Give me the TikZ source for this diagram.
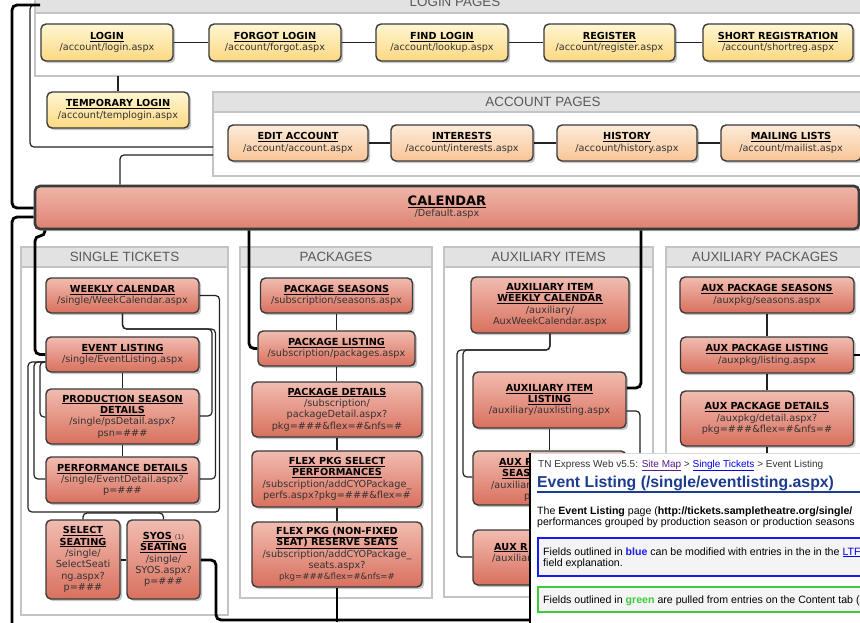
\documentclass[tikz,border=0pt]{standalone}
\usepackage{fontspec}
\setmainfont{DejaVu Sans}
\newfontfamily\lbfont{Liberation Sans}
\usetikzlibrary{shadows}
\definecolor{yelT}{HTML}{FFF6D2}
\definecolor{yelB}{HTML}{FCD882}
\definecolor{pchT}{HTML}{FDEBD8}
\definecolor{pchB}{HTML}{F8C596}
\definecolor{redT}{HTML}{F1BCB0}
\definecolor{redB}{HTML}{D9705E}
\definecolor{calT}{HTML}{EEB6A9}
\definecolor{calB}{HTML}{DE8270}
\definecolor{ndline}{HTML}{3A3A3A}
\definecolor{ndtxt}{HTML}{333333}
\definecolor{grpline}{HTML}{C4C4C4}
\definecolor{grpfill}{HTML}{E2E2E2}
\definecolor{grptxt}{HTML}{5A5A5A}
\definecolor{wirec}{HTML}{222222}
\definecolor{ovgray}{HTML}{333333}
\definecolor{ovblue}{HTML}{1D3C8F}
\definecolor{visitc}{HTML}{551A8B}
\definecolor{linkc}{HTML}{0000EE}
\definecolor{boxblue}{HTML}{1A1AF0}
\definecolor{boxgreen}{HTML}{3DCB3D}
\definecolor{boxfill}{HTML}{F4F4F4}
\newcommand\ndfont{\fontsize{9.7}{11.3}\selectfont}
\newcommand\grpfont{\lbfont\fontsize{13.4}{15}\selectfont}
\newcommand\ovfont{\lbfont\fontsize{10.6}{12}\selectfont}
\newcommand\nt[1]{{\color{black}\underline{\textbf{#1}}}}
\pgfdeclarelayer{bg}
\pgfdeclarelayer{mid}
\pgfsetlayers{bg,mid,main}
\begin{document}
\begin{tikzpicture}[x=1pt,y=-1pt,
  ndb/.style={rounded corners=5pt, draw=ndline, line width=1.4pt, align=center, inner sep=1pt, font=\ndfont, text=ndtxt, drop shadow={shadow xshift=2.2pt, shadow yshift=-2.2pt, opacity=0.22, fill=black}},
  ynode/.style={ndb, top color=yelT, bottom color=yelB},
  pnode/.style={ndb, top color=pchT, bottom color=pchB},
  rnode/.style={ndb, top color=redT, bottom color=redB},
  grpbox/.style={draw=grpline, line width=1.4pt, fill=white},
  grphd/.style={draw=grpline, line width=1.4pt, fill=grpfill},
  grplbl/.style={font=\grpfont, text=grptxt, inner sep=0pt},
  wire/.style={draw=wirec, line width=1.2pt, rounded corners=4pt},
  hwire/.style={draw=black, line width=2.8pt, rounded corners=5pt},
  ovt/.style={anchor=base west, inner sep=0pt, font=\ovfont, text=black},
  frag/.style={anchor=base west, inner sep=0pt, font=\ndfont, text=ndtxt},
]
\useasboundingbox (0,0) rectangle (860,622);

% ---------- group boxes ----------
\begin{pgfonlayer}{bg}
\clip (0,0) rectangle (860,622);
\fill[white] (0,0) rectangle (860,622);
\draw[grpbox] (35,-20) rectangle (875,76);
\draw[grphd] (35,-20) rectangle (875,13);
\node[grplbl] (lplbl) at (455,2) {LOGIN PAGES};
\draw[grpbox] (213,92) rectangle (873,176);
\draw[grphd] (213,92) rectangle (873,112);
\node[grplbl] (aplbl) at (543,102) {ACCOUNT PAGES};
\draw[grpbox] (21,247) rectangle (228,615);
\draw[grphd] (21,247) rectangle (228,267);
\node[grplbl] (stlbl) at (124.5,257) {SINGLE TICKETS};
\draw[grpbox] (240,247) rectangle (432,598);
\draw[grphd] (240,247) rectangle (432,267);
\node[grplbl] (pklbl) at (336,257) {PACKAGES};
\draw[grpbox] (444,247) rectangle (653,597);
\draw[grphd] (444,247) rectangle (653,267);
\node[grplbl] (ailbl) at (548.5,257) {AUXILIARY ITEMS};
\draw[grpbox] (666,247) rectangle (864,640);
\draw[grphd] (666,247) rectangle (864,267);
\node[grplbl] (aplbl2) at (765,257) {AUXILIARY PACKAGES};
\end{pgfonlayer}

% ---------- nodes ----------
\node[ynode, minimum width=132pt, minimum height=37pt] (login) at (107,42.5) {\nt{LOGIN}\\/account/login.aspx};
\node[ynode, minimum width=132pt, minimum height=37pt] (forgot) at (275,42.5) {\nt{FORGOT LOGIN}\\/account/forgot.aspx};
\node[ynode, minimum width=132pt, minimum height=37pt] (find) at (442,42.5) {\nt{FIND LOGIN}\\/account/lookup.aspx};
\node[ynode, minimum width=131pt, minimum height=37pt] (register) at (609.5,42.5) {\nt{REGISTER}\\/account/register.aspx};
\node[ynode, minimum width=150pt, minimum height=37pt] (shortreg) at (778,42.5) {\nt{SHORT REGISTRATION}\\/account/shortreg.aspx};
\node[ynode, minimum width=142pt, minimum height=36pt] (temp) at (118,110) {\nt{TEMPORARY LOGIN}\\/account/templogin.aspx};

\node[pnode, minimum width=140pt, minimum height=36pt] (editacc) at (298,143) {\nt{EDIT ACCOUNT}\\/account/account.aspx};
\node[pnode, minimum width=142pt, minimum height=36pt] (interests) at (462,143) {\nt{INTERESTS}\\/account/interests.aspx};
\node[pnode, minimum width=140pt, minimum height=36pt] (history) at (627,143) {\nt{HISTORY}\\/account/history.aspx};
\node[pnode, minimum width=140pt, minimum height=36pt] (mailing) at (791,143) {\nt{MAILING LISTS}\\/account/mailist.aspx};

\node[rnode, line width=2.6pt, minimum width=824pt, minimum height=43pt, top color=calT, bottom color=calB] (cal) at (447,207.5) {{\fontsize{13}{14}\selectfont\nt{CALENDAR}}\\/Default.aspx};

\node[rnode, minimum width=153pt, minimum height=35pt] (wc) at (122.5,295.5) {\nt{WEEKLY CALENDAR}\\/single/WeekCalendar.aspx};
\node[rnode, minimum width=153pt, minimum height=35pt] (el) at (122.5,354.5) {\nt{EVENT LISTING}\\/single/EventListing.aspx};
\node[rnode, minimum width=153pt, minimum height=55pt] (psd) at (122.5,416.5) {\nt{PRODUCTION SEASON}\\\nt{DETAILS}\\/single/psDetail.aspx?\\psn=\#\#\#};
\node[rnode, minimum width=153pt, minimum height=46pt] (pd) at (122.5,480) {\nt{PERFORMANCE DETAILS}\\/single/EventDetail.aspx?\\p=\#\#\#};
\node[rnode, minimum width=74pt, minimum height=79pt] (ss) at (83,559.5) {\nt{SELECT}\\\nt{SEATING}\\/single/\\SelectSeati\\ng.aspx?\\p=\#\#\#};
\node[rnode, minimum width=73pt, minimum height=79pt] (syos) at (163.5,559.5) {\nt{SYOS} {\fontsize{6.5}{7}\selectfont (1)}\\\nt{SEATING}\\/single/\\SYOS.aspx?\\p=\#\#\#};

\node[rnode, minimum width=152pt, minimum height=35pt] (ps) at (336.5,295.5) {\nt{PACKAGE SEASONS}\\/subscription/seasons.aspx};
\node[rnode, minimum width=157pt, minimum height=35pt] (pl) at (336.5,348.5) {\nt{PACKAGE LISTING}\\/subscription/packages.aspx};
\node[rnode, minimum width=170pt, minimum height=55pt] (pkd) at (337,409.5) {\nt{PACKAGE DETAILS}\\/subscription/\\packageDetail.aspx?\\pkg=\#\#\#\&flex=\#\&nfs=\#};
\node[rnode, minimum width=170pt, minimum height=56pt] (flexsel) at (337,479) {\nt{FLEX PKG SELECT}\\\nt{PERFORMANCES}\\/subscription/addCYOPackage\_\\perfs.aspx?pkg=\#\#\#\&flex=\#};
\node[rnode, minimum width=170pt, minimum height=65pt] (flexres) at (337,554.5) {\nt{FLEX PKG (NON-FIXED}\\\nt{SEAT) RESERVE SEATS}\\/subscription/addCYOPackage\_\\seats.aspx?\\{\fontsize{8.6}{11.3}\selectfont pkg=\#\#\#\&flex=\#\&nfs=\#}};

\node[rnode, minimum width=158pt, minimum height=56pt] (aiwc) at (550,305) {\nt{AUXILIARY ITEM}\\\nt{WEEKLY CALENDAR}\\/auxiliary/\\AuxWeekCalendar.aspx};
\node[rnode, minimum width=153pt, minimum height=56pt] (ail) at (549.5,400) {\nt{AUXILIARY ITEM}\\\nt{LISTING}\\/auxiliary/auxlisting.aspx};
\node[rnode, minimum width=153pt, minimum height=54pt] (auxp) at (549.5,478) {};
\node[frag] (auxpt1) at (499,465) {\nt{AUX P}};
\node[frag] (auxpt2) at (502,476.5) {\nt{SEAS}};
\node[frag] (auxpt3) at (491,488) {/auxiliar};
\node[frag] (auxpt4) at (524,499.5) {p};
\node[rnode, minimum width=153pt, minimum height=55pt] (auxr) at (549.5,557.5) {};
\node[frag] (auxrt1) at (494,550) {\nt{AUX R}};
\node[frag] (auxrt2) at (492,561.5) {/auxiliary};

\node[rnode, minimum width=174pt, minimum height=36pt] (aps) at (767,295) {\nt{AUX PACKAGE SEASONS}\\/auxpkg/seasons.aspx};
\node[rnode, minimum width=173pt, minimum height=36pt] (apl) at (767,355) {\nt{AUX PACKAGE LISTING}\\/auxpkg/listing.aspx};
\node[rnode, minimum width=173pt, minimum height=55pt] (apd) at (767,418.5) {\nt{AUX PACKAGE DETAILS}\\/auxpkg/detail.aspx?\\pkg=\#\#\#\&flex=\#\&nfs=\#};

\coordinate (lpb) at (118,76);
\coordinate (accL1) at (213,147);
\coordinate (accL2) at (213,155);

% ---------- connectors ----------
\begin{pgfonlayer}{mid}
\clip (0,0) rectangle (860,622);
\draw[wire] (login) -- (forgot);
\draw[wire] (forgot) -- (find);
\draw[wire] (find) -- (register);
\draw[wire] (register) -- (shortreg);
\draw[wire] (temp.north) -- (lpb);
\draw[wire] (editacc) -- (interests);
\draw[wire] (interests) -- (history);
\draw[wire] (history) -- (mailing);
\draw[wire] (accL1) -- (30,147) -- (30,5) -- (36,5);
\draw[wire] (accL2) -- (120,155) -- (cal.north -| 120,0);

\draw[hwire] (cal.west |- 0,208) -- (12,208) -- (12,5) -- (40,5);
\draw[hwire] (cal.west |- 0,217) -- (12,217) -- (12,650);
\draw[hwire] (cal.south -| 45,0) -- (45,236) -- (35,236) -- (35,354.5) -- (el.west);
\draw[hwire] (cal.south -| 249,0) -- (249,348.5) -- (pl.west);
\draw[hwire] (cal.south -| 641,0) -- (641,388) -- (ail.east |- 0,388);
\draw[hwire] (apl.east) -- (890,355);
\draw[hwire] (syos.east |- 0,560) -- (216,560) -- (216,620) -- (600,620);
\draw[hwire] (flexres.south) -- (flexres.south |- 0,622);

\draw[wire] (wc.south) -- (122.5,329) -- (212,329) -- (212,416) -- (psd.east |- 0,416);
\draw[wire] (wc.south) -- (122.5,329) -- (215.5,329) -- (215.5,479) -- (pd.east |- 0,479);
\draw[wire] (wc.east) -- (219.5,295.5) -- (219.5,512) -- (28,512) -- (28,362) -- (el.west |- 0,362);
\draw[wire] (el.west |- 0,362) -- (34,362) -- (34,479) -- (pd.west |- 0,479);
\draw[wire] (el.west |- 0,362) -- (40,362) -- (40,417) -- (psd.west |- 0,417);
\draw[wire] (el) -- (psd);
\draw[wire] (psd) -- (pd);
\draw[wire] (ss.north) -- (83,513) -- (163.5,513) -- (syos.north);
\draw[wire] (ss.east |- 0,560) -- (syos.west |- 0,560);

\draw[wire] (ps.south) -- (ps.south |- pl.north);
\draw[wire] (pl.south) -- (pl.south |- pkd.north);
\draw[wire] (pkd) -- (flexsel);
\draw[wire] (flexsel) -- (flexres);

\draw[wire] (aiwc.south) -- (550,350) -- (463,350) -- (463,477) -- (auxp.west |- 0,477);
\draw[wire] (aiwc.south) -- (550,350) -- (457,350) -- (457,557) -- (auxr.west |- 0,557);
\draw[wire] (ail) -- (auxp);
\draw[wire] (ail.east |- 0,411) -- (640,411) -- (640,600);

\draw[wire] (aps) -- (apl);
\draw[wire] (apl) -- (apd);
\draw[wire] (apd.south) -- (apd.south |- 0,470);
\end{pgfonlayer}

% ---------- overlay window ----------
\begin{scope}
\clip (0,0) rectangle (860,622);
\fill[white] (530,453) rectangle (880,640);
\draw[black!15, line width=0.8pt] (530,453) -- (880,453);
\draw[black, line width=1.2pt] (530,453) -- (530,640);
\node[ovt, font=\lbfont\fontsize{10}{12}\selectfont, text=ovgray] (ovcrumb) at (538,467) {TN Express Web v5.5: {\color{visitc}\underline{Site Map}} > {\color{linkc}\underline{Single Tickets}} > Event Listing};
\node[ovt, font=\lbfont\bfseries\fontsize{15.8}{18}\selectfont, text=ovblue] (ovtitle) at (537,487) {Event Listing (/single/eventlisting.aspx)};
\draw[ovblue, line width=1.5pt] (537,492) -- (880,492);
\node[ovt] (ovp1) at (537,514.5) {The \textbf{Event Listing} page (\textbf{http://tickets.sampletheatre.org/single/}};
\node[ovt] (ovp2) at (537,525.5) {performances grouped by production season or production seasons};
\draw[draw=boxblue, line width=1.8pt, fill=boxfill] (538,538) rectangle (890,576);
\node[ovt] (ovb1) at (543,555) {Fields outlined in {\color{boxblue}\textbf{blue}} can be modified with entries in the in the {\color{linkc}\underline{LTF}}};
\node[ovt] (ovb2) at (543,566.7) {field explanation.};
\draw[draw=boxgreen, line width=1.8pt, fill=boxfill] (538,587) rectangle (890,612);
\node[ovt] (ovg) at (543,603.3) {Fields outlined in {\color{boxgreen}\textbf{green}} are pulled from entries on the Content tab (};
\end{scope}
\end{tikzpicture}
\end{document}
